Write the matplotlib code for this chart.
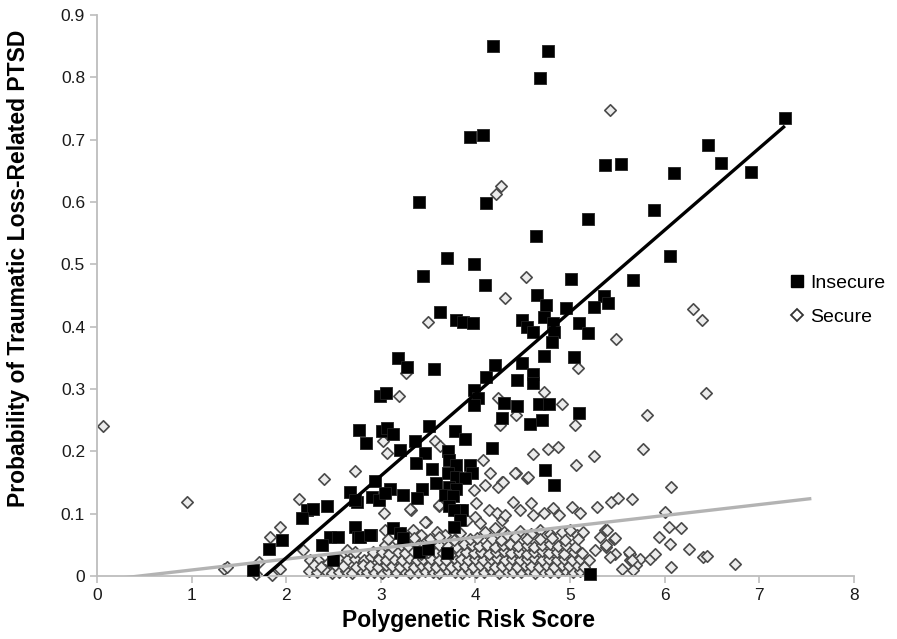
import numpy as np
import matplotlib
matplotlib.use("Agg")
import matplotlib.pyplot as plt
from matplotlib.lines import Line2D

plt.rcParams["font.family"] = ["Liberation Sans", "DejaVu Sans"]

# --- Insecure (black squares) ---
ins_x = [4.19, 4.77, 4.68, 3.94, 4.08, 7.27, 6.46, 6.59, 6.91, 5.37, 5.54, 6.10, 3.40, 4.11, 5.19, 5.89,
         4.64, 3.70, 3.99, 3.45, 4.10, 6.06, 5.01, 5.66, 4.65, 5.36, 5.40, 4.75, 4.96, 5.25, 3.63, 3.80,
         3.87, 3.97, 4.49, 4.72, 4.54, 4.61, 4.82, 4.83, 4.81, 5.09, 5.19, 4.73, 5.04, 3.18, 3.28, 3.56,
         4.21, 4.49, 4.11, 4.44, 4.61, 4.61, 3.99, 4.03, 3.98, 2.99, 3.06, 4.30, 4.44, 4.67, 4.78, 4.28,
         4.58, 4.70, 5.09, 2.77, 2.84, 3.01, 3.07, 3.13, 3.51, 3.36, 3.20, 3.47, 3.78, 3.89, 3.71, 3.72,
         4.18, 3.37, 3.54, 3.80, 3.94, 3.96, 3.71, 3.80, 3.89, 3.58, 2.94, 4.74, 4.83, 3.10, 3.23, 3.44,
         3.38, 2.67, 2.75, 2.22, 2.28, 2.17, 2.43, 2.91, 2.98, 3.04, 2.73, 3.72, 3.80, 3.68, 3.76, 3.72,
         3.83, 3.86, 3.77, 3.84, 3.77, 1.96, 1.82, 2.46, 2.55, 2.38, 2.73, 2.76, 2.90, 2.50, 1.65, 2.78,
         2.89, 3.13, 3.20, 3.24, 3.40, 3.50, 3.70, 5.21]
ins_y = [0.851, 0.843, 0.799, 0.705, 0.707, 0.735, 0.692, 0.662, 0.648, 0.659, 0.661, 0.646, 0.600, 0.599, 0.573, 0.587,
         0.545, 0.510, 0.501, 0.482, 0.467, 0.514, 0.477, 0.475, 0.451, 0.449, 0.438, 0.435, 0.430, 0.432, 0.423, 0.410,
         0.408, 0.406, 0.411, 0.416, 0.400, 0.392, 0.406, 0.392, 0.376, 0.406, 0.390, 0.353, 0.352, 0.349, 0.335, 0.332,
         0.339, 0.341, 0.319, 0.314, 0.324, 0.309, 0.299, 0.285, 0.274, 0.288, 0.293, 0.278, 0.273, 0.276, 0.276, 0.253,
         0.244, 0.250, 0.261, 0.234, 0.214, 0.232, 0.237, 0.228, 0.240, 0.216, 0.202, 0.198, 0.233, 0.219, 0.200, 0.186,
         0.206, 0.181, 0.171, 0.178, 0.178, 0.165, 0.165, 0.159, 0.157, 0.149, 0.153, 0.170, 0.146, 0.139, 0.130, 0.139,
         0.125, 0.135, 0.118, 0.106, 0.107, 0.093, 0.112, 0.127, 0.122, 0.133, 0.122, 0.143, 0.140, 0.130, 0.128, 0.112,
         0.106, 0.106, 0.106, 0.090, 0.079, 0.058, 0.043, 0.063, 0.063, 0.049, 0.079, 0.063, 0.065, 0.026, 0.010, 0.063,
         0.066, 0.077, 0.069, 0.061, 0.039, 0.044, 0.037, 0.003]

# --- Secure (open diamonds): scattered points ---
sec_x = [0.06, 0.95, 5.42, 4.27, 4.22, 4.53, 4.31, 3.50, 5.49, 5.08, 3.27, 4.73, 3.19, 4.24, 4.43, 4.91,
         4.26, 5.05, 5.81, 3.02, 3.07, 3.57, 3.63, 4.08, 4.61, 4.77, 4.87, 5.25, 5.77, 2.73, 2.40, 2.14,
         4.43, 4.54, 4.28, 4.15, 5.06, 3.03, 3.32, 3.62, 3.48, 1.93, 1.83, 3.04, 1.34, 1.38, 1.71, 1.68,
         1.85, 1.93, 2.18, 6.30, 6.39, 6.44, 6.07, 5.43, 5.51, 5.65, 6.00, 6.05, 6.17, 5.94, 6.06, 6.26,
         6.40, 6.45, 6.74, 6.07, 5.37, 5.46, 5.38, 5.48, 5.63, 5.63, 5.74, 5.84, 5.90, 5.70, 5.55, 5.67,
         4.10, 4.24, 4.29, 3.98, 3.61, 3.31, 4.01, 4.14, 4.23, 4.28, 3.47, 3.91, 4.00, 4.05, 3.22, 3.34,
         3.43, 3.59, 3.68, 3.84, 4.10, 4.21, 4.30, 4.42, 4.56, 4.40, 4.59, 4.47, 4.61, 4.72, 4.82, 4.88,
         5.02, 5.11, 5.28, 4.31, 4.33, 4.47, 4.59, 4.68, 4.79, 4.91, 5.00, 5.07, 5.14, 5.39, 5.48, 5.32,
         5.38, 5.26, 5.42, 5.62, 5.65, 2.25, 2.34, 2.43, 2.57, 2.64, 2.73, 2.82, 2.90, 2.64, 2.73, 2.92]
sec_y = [0.241, 0.118, 0.748, 0.626, 0.613, 0.479, 0.446, 0.408, 0.380, 0.333, 0.325, 0.295, 0.288, 0.285, 0.258, 0.276,
         0.242, 0.243, 0.258, 0.217, 0.197, 0.216, 0.209, 0.186, 0.196, 0.203, 0.207, 0.193, 0.203, 0.169, 0.155, 0.124,
         0.166, 0.158, 0.150, 0.165, 0.178, 0.101, 0.106, 0.112, 0.087, 0.078, 0.063, 0.074, 0.012, 0.014, 0.023, 0.004,
         0.002, 0.011, 0.042, 0.428, 0.411, 0.293, 0.142, 0.118, 0.125, 0.124, 0.103, 0.079, 0.077, 0.062, 0.051, 0.043,
         0.030, 0.032, 0.020, 0.015, 0.074, 0.059, 0.047, 0.036, 0.036, 0.026, 0.028, 0.028, 0.035, 0.018, 0.011, 0.010,
         0.146, 0.143, 0.151, 0.138, 0.114, 0.107, 0.117, 0.106, 0.101, 0.090, 0.087, 0.090, 0.095, 0.085, 0.069, 0.074,
         0.066, 0.071, 0.066, 0.069, 0.071, 0.077, 0.071, 0.165, 0.159, 0.119, 0.117, 0.106, 0.098, 0.101, 0.109, 0.098,
         0.111, 0.101, 0.111, 0.098, 0.066, 0.072, 0.068, 0.074, 0.067, 0.070, 0.073, 0.065, 0.071, 0.074, 0.061, 0.063,
         0.050, 0.042, 0.031, 0.039, 0.026, 0.026, 0.026, 0.020, 0.026, 0.026, 0.028, 0.026, 0.031, 0.042, 0.039, 0.039]

# --- Secure: dense cloud near zero, read row by row ---
row_a_x = [2.24, 2.33, 2.41, 2.48, 2.56, 2.63, 2.70, 2.78, 2.85, 2.93, 3.01, 3.08, 3.16, 3.24, 3.31, 3.39, 3.47, 3.55, 3.62,
           3.70, 3.78, 3.86, 3.93, 4.01, 4.09, 4.17, 4.25, 4.33, 4.40, 4.48, 4.56, 4.63, 4.71, 4.79, 4.87, 4.95, 5.03, 5.11]
row_a_y = [0.008, 0.006, 0.009, 0.005, 0.007, 0.008, 0.005, 0.009, 0.006, 0.007, 0.005, 0.008, 0.006, 0.009, 0.005, 0.007, 0.008, 0.006, 0.005,
           0.009, 0.007, 0.005, 0.008, 0.006, 0.007, 0.009, 0.005, 0.008, 0.006, 0.007, 0.009, 0.005, 0.008, 0.006, 0.007, 0.009, 0.006, 0.008]
row_b_x = [2.29, 2.37, 2.52, 2.60, 2.74, 2.81, 2.89, 2.97, 3.05, 3.12, 3.20, 3.28, 3.35, 3.43, 3.51, 3.58, 3.66, 3.74,
           3.82, 3.89, 3.97, 4.05, 4.13, 4.21, 4.28, 4.36, 4.44, 4.52, 4.59, 4.67, 4.75, 4.83, 4.91, 4.99, 5.07, 5.15]
row_b_y = [0.017, 0.015, 0.018, 0.016, 0.014, 0.018, 0.016, 0.015, 0.018, 0.016, 0.014, 0.017, 0.015, 0.018, 0.016, 0.015, 0.017, 0.014,
           0.018, 0.016, 0.015, 0.017, 0.018, 0.014, 0.016, 0.018, 0.015, 0.017, 0.016, 0.014, 0.018, 0.015, 0.017, 0.016, 0.018, 0.015]
row_c_x = [2.98, 3.06, 3.14, 3.22, 3.30, 3.38, 3.45, 3.53, 3.61, 3.69, 3.77, 3.85, 3.92, 4.00, 4.08, 4.16, 4.23,
           4.31, 4.39, 4.47, 4.54, 4.62, 4.70, 4.78, 4.86, 4.94, 5.02, 5.10, 5.20]
row_c_y = [0.027, 0.025, 0.028, 0.026, 0.029, 0.025, 0.027, 0.028, 0.026, 0.025, 0.029, 0.027, 0.026, 0.028, 0.025, 0.027, 0.029,
           0.026, 0.028, 0.025, 0.027, 0.029, 0.026, 0.028, 0.025, 0.027, 0.026, 0.028, 0.025]
row_d_x = [3.01, 3.09, 3.18, 3.26, 3.34, 3.42, 3.50, 3.58, 3.66, 3.74, 3.82, 3.90, 3.98, 4.06, 4.14, 4.22, 4.30,
           4.38, 4.46, 4.54, 4.62, 4.70, 4.78, 4.86, 4.94, 5.04, 5.13]
row_d_y = [0.038, 0.036, 0.039, 0.037, 0.040, 0.036, 0.038, 0.039, 0.037, 0.036, 0.040, 0.038, 0.037, 0.039, 0.036, 0.038, 0.040,
           0.037, 0.039, 0.036, 0.038, 0.040, 0.037, 0.039, 0.036, 0.038, 0.037]
row_e_x = [3.04, 3.12, 3.21, 3.29, 3.37, 3.45, 3.54, 3.62, 3.71, 3.79, 3.88, 3.96, 4.04, 4.12, 4.21, 4.29, 4.37,
           4.45, 4.54, 4.62, 4.70, 4.79, 4.87, 4.96, 5.05]
row_e_y = [0.049, 0.047, 0.050, 0.048, 0.051, 0.047, 0.049, 0.050, 0.048, 0.047, 0.051, 0.049, 0.048, 0.050, 0.047, 0.049, 0.051,
           0.048, 0.050, 0.047, 0.049, 0.051, 0.048, 0.050, 0.047]
row_f_x = [3.08, 3.26, 3.35, 3.52, 3.61, 3.77, 3.94, 4.02, 4.18, 4.27, 4.42, 4.55, 4.68, 4.81, 4.95, 5.08]
row_f_y = [0.060, 0.058, 0.061, 0.059, 0.062, 0.058, 0.060, 0.061, 0.059, 0.058, 0.062, 0.060, 0.059, 0.061, 0.058, 0.060]

# linear trend lines (slope, intercept, x range)
ins_fit = (0.1315, -0.234, 1.65, 7.27)
sec_fit = (0.0175, -0.0079, 0.06, 7.55)

x_ticks = [0, 1, 2, 3, 4, 5, 6, 7, 8]
y_ticks = [0, 0.1, 0.2, 0.3, 0.4, 0.5, 0.6, 0.7, 0.8, 0.9]

fig = plt.figure(figsize=(8.97, 6.39), dpi=100)
ax = fig.add_axes([0.108, 0.0986, 0.844, 0.8779])

cloud_x = sec_x + row_a_x + row_b_x + row_c_x + row_d_x + row_e_x + row_f_x
cloud_y = sec_y + row_a_y + row_b_y + row_c_y + row_d_y + row_e_y + row_f_y
ax.scatter(cloud_x, cloud_y, marker="D", s=34, facecolor="#ececec", edgecolor="#4a4a4a",
           linewidths=1.2, zorder=2, clip_on=False)
ax.scatter(ins_x, ins_y, marker="s", s=74, facecolor="black", edgecolor="#222222",
           linewidths=0.6, zorder=3, clip_on=False)

for (m, b, x0, x1), col in [(sec_fit, "#b3b3b3"), (ins_fit, "black")]:
    xs = np.array([x0, x1])
    ax.plot(xs, m * xs + b, color=col, lw=2.4, zorder=4, solid_capstyle="butt")

ax.set_xlim(0, 8)
ax.set_ylim(0, 0.9)
ax.set_xticks(x_ticks)
ax.set_yticks(y_ticks)
ax.set_xticklabels([str(t) for t in x_ticks])
ax.set_yticklabels(["0"] + [f"{t:.1f}" for t in y_ticks[1:]])
for s in ["top", "right"]:
    ax.spines[s].set_visible(False)
for s in ["left", "bottom"]:
    ax.spines[s].set_color("#bdbdbd")
    ax.spines[s].set_linewidth(1.3)
ax.tick_params(colors="#bdbdbd", labelcolor="#1a1a1a", labelsize=12.5, length=5, width=1.2)

fig.text(468.5 / 897, 1 - 621 / 639, "Polygenetic Risk Score", fontsize=16.5, fontweight="bold",
         ha="center", va="center")
fig.text(19 / 897, 1 - 268 / 639, "Probability of Traumatic Loss-Related PTSD", fontsize=16.5,
         fontweight="bold", rotation=90, ha="center", va="center")

handles = [Line2D([], [], marker="s", ls="", color="black", markersize=9),
           Line2D([], [], marker="D", ls="", markerfacecolor="white", markeredgecolor="#333333",
                  markeredgewidth=1.3, markersize=6)]
fig.legend(handles, ["Insecure", "Secure"], loc="center left", bbox_to_anchor=(0.858, 1 - 300 / 639),
           frameon=False, fontsize=14, handletextpad=0.2, labelspacing=0.85, handlelength=1.0)

fig.savefig("out.png", dpi=100)
